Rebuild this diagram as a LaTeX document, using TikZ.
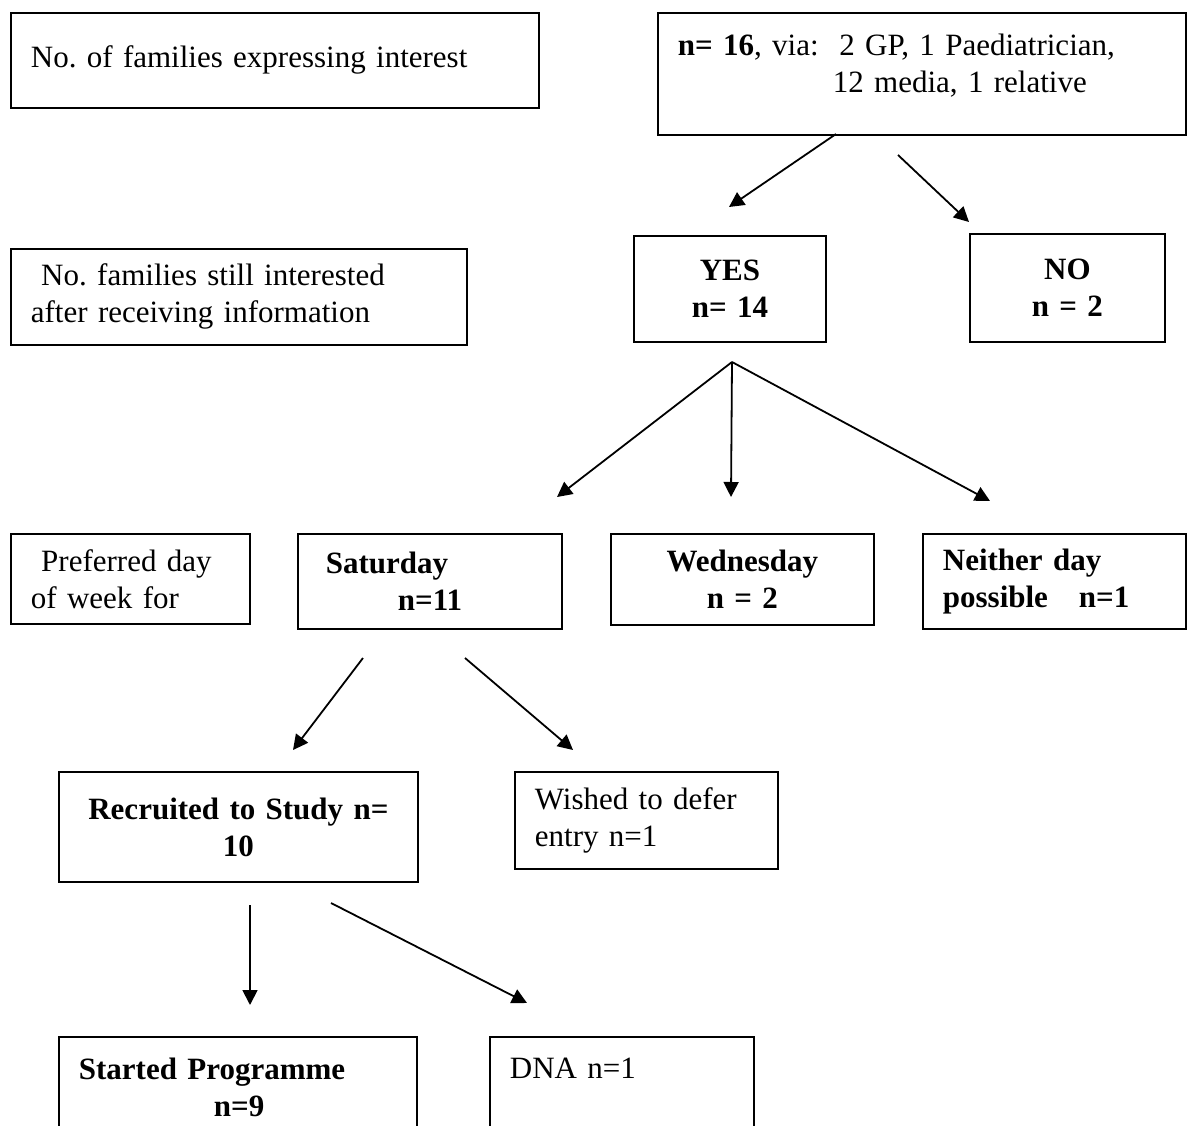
\documentclass[tikz,border=0pt]{standalone}
\usepackage{fontspec}
\setmainfont{Liberation Serif}
\usetikzlibrary{arrows.meta}
\frenchspacing

\begin{document}
\begin{tikzpicture}[x=1pt, y=-1pt,
    box/.style={draw, line width=1.8pt, anchor=north west, inner xsep=20pt, inner ysep=0pt,
      font=\fontsize{31}{37}\selectfont},
    arr/.style={line width=1.8pt, -{Triangle[length=15pt,width=15pt]}}]
    \clip (0,0) rectangle (1194,1126);

    \node[box, text width=488pt, minimum height=95pt, align=left] (interest) at (10,12) {No. of families expressing interest};
    \node[box, text width=488pt, minimum height=122pt, align=left] (referral) at (657,12)
        {\textbf{n= 16}, via:\ \ 2 GP, 1 Paediatrician,\\\hspace*{155pt}12 media, 1 relative\\[-16pt]\mbox{}};

    \node[box, text width=416pt, minimum height=96pt, align=left] (still) at (10,248) {\ No. families still interested\\after receiving information};
    \node[box, text width=152pt, minimum height=106pt, align=center, font=\fontsize{31}{37}\selectfont\bfseries] (yes) at (633,235) {YES\\n= 14};
    \node[box, text width=155pt, minimum height=108pt, align=center, font=\fontsize{31}{37}\selectfont\bfseries] (no) at (969,233) {NO\\n = 2};

    \node[box, text width=199pt, minimum height=90pt, align=left] (prefer) at (10,533) {\ Preferred day\\of week for};
    \node[box, inner xsep=28pt, text width=208pt, minimum height=95pt, align=left, font=\fontsize{31}{37}\selectfont\bfseries] (sat) at (297,533) {Saturday\\\hspace*{72pt}n=11};
    \node[box, text width=223pt, minimum height=91pt, align=center, font=\fontsize{31}{37}\selectfont\bfseries] (wed) at (610,533) {Wednesday\\n = 2};
    \node[box, text width=223pt, minimum height=95pt, align=left, font=\fontsize{31}{37}\selectfont\bfseries] (neither) at (922,533) {Neither day\\possible\ \ \ n=1};

    \node[box, text width=319pt, minimum height=110pt, align=center, font=\fontsize{31}{37}\selectfont\bfseries] (recruit) at (58,771) {Recruited to Study n=\\10};
    \node[box, text width=223pt, minimum height=97pt, align=left] (defer) at (514,771) {Wished to defer\\entry n=1};

    \node[box, text width=318pt, minimum height=100pt, align=left, font=\fontsize{31}{37}\selectfont\bfseries] (started) at (58,1036) {Started Programme\\\hspace*{135pt}n=9};
    \node[box, text width=224pt, minimum height=100pt, align=left] (dna) at (489,1036) {DNA n=1\\\mbox{}};

    \coordinate (refyes) at (836,134);
    \coordinate (refyes e) at (729,207);
    \coordinate (refno) at (898,155);
    \coordinate (refno e) at (969,222);
    \coordinate (fork) at (732,362);
    \coordinate (fork sat) at (557,497);
    \coordinate (fork wed) at (731,497);
    \coordinate (fork nei) at (990,501);
    \coordinate (satrec) at (363,658);
    \coordinate (satrec e) at (293,750);
    \coordinate (satdef) at (465,658);
    \coordinate (satdef e) at (573,750);
    \coordinate (recsta) at (250,905);
    \coordinate (recsta e) at (250,1005);
    \coordinate (recdna) at (331,903);
    \coordinate (recdna e) at (527,1003);

    \draw[arr] (refyes) -- (refyes e);
    \draw[arr] (refno) -- (refno e);
    \draw[arr] (fork) -- (fork sat);
    \draw[arr] (fork) -- (fork wed);
    \draw[arr] (fork) -- (fork nei);
    \draw[arr] (satrec) -- (satrec e);
    \draw[arr] (satdef) -- (satdef e);
    \draw[arr] (recsta) -- (recsta e);
    \draw[arr] (recdna) -- (recdna e);
\end{tikzpicture}
\end{document}
